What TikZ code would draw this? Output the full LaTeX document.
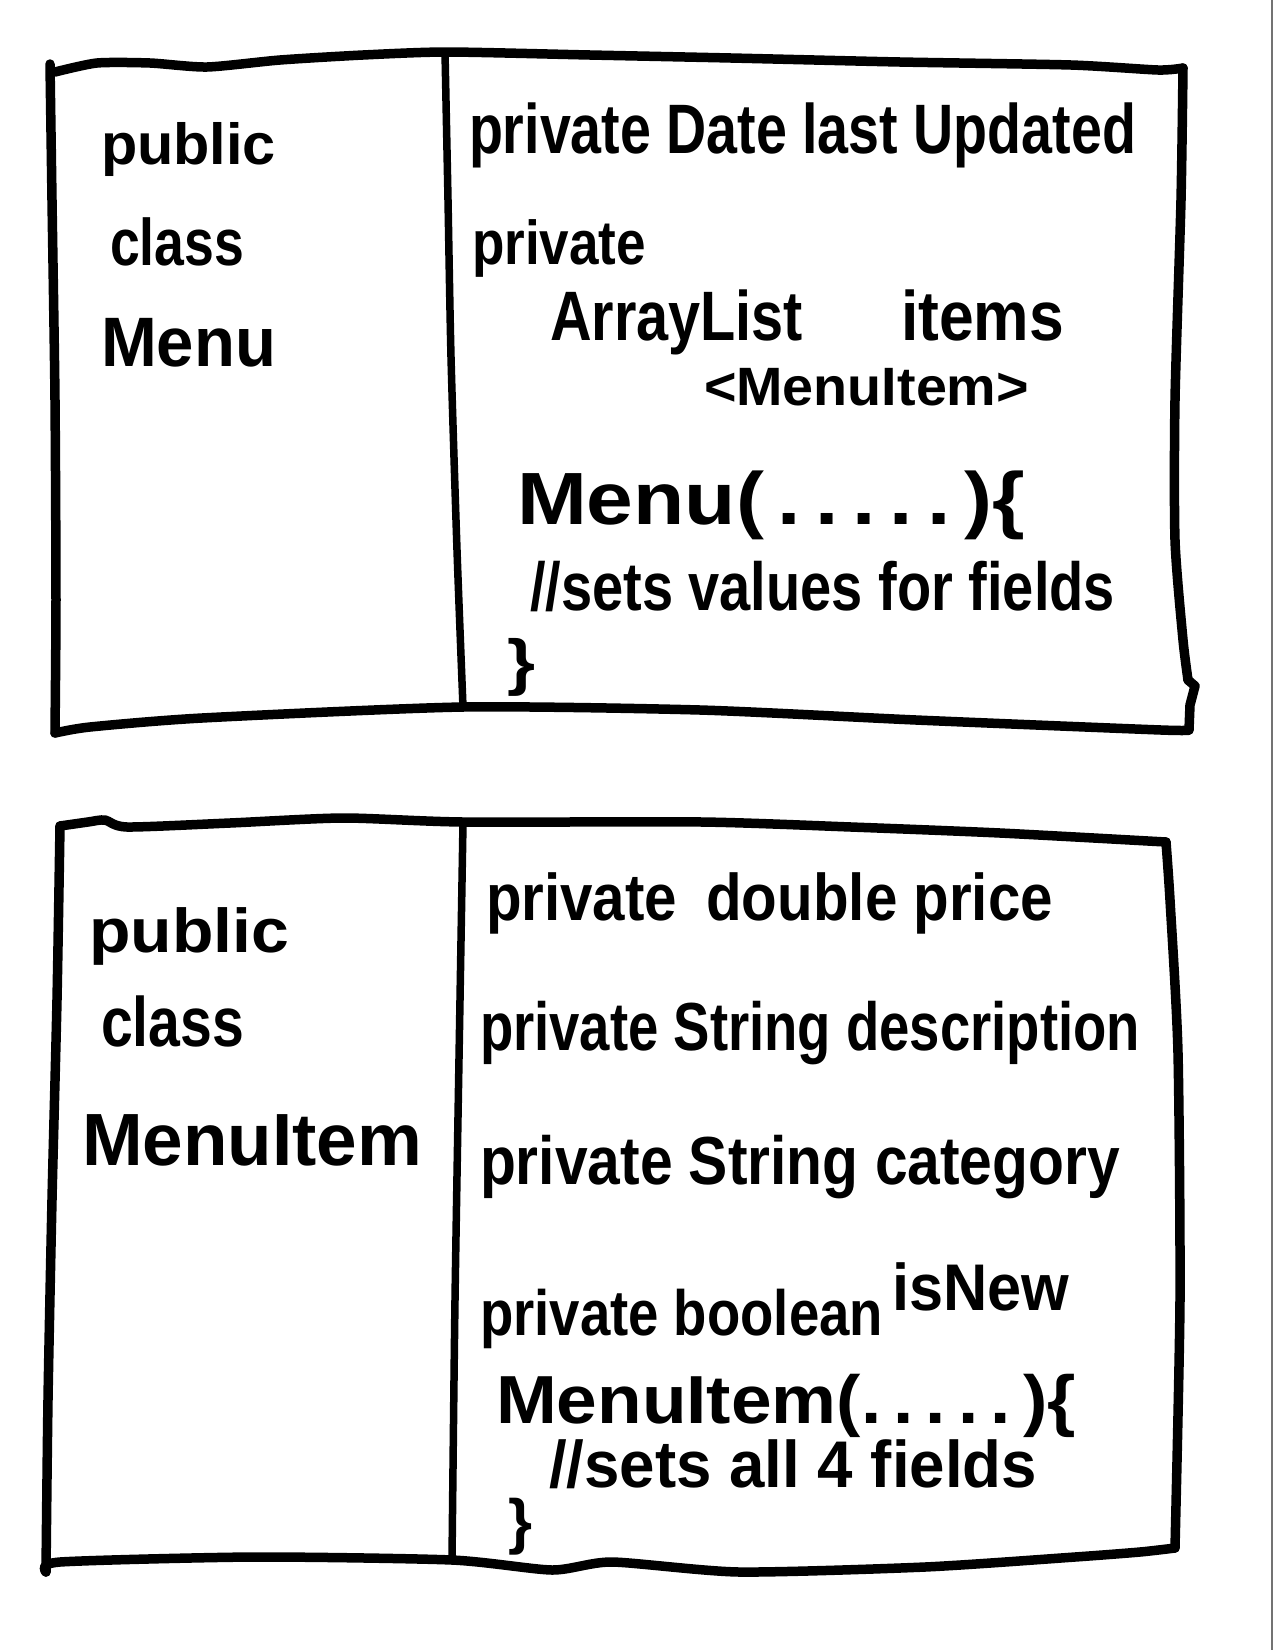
\documentclass[tikz,border=0pt]{standalone}
\usepackage{fontspec}
\setmainfont{Liberation Sans}
\usepackage{graphicx}
% stretch or squeeze a text to a given width, keeping its height
\newcommand{\fitw}[2]{\resizebox{#1}{\height}{#2}}
% scale a glyph to an exact width and total height
\newcommand{\fitwh}[3]{\resizebox*{#1}{#2}{#3}}

\tikzset{
  hand/.style={inner sep=0pt, outer sep=0pt, anchor=base west,
    font=\bfseries\fontsize{#1}{#1}\selectfont},
  brace/.style={inner sep=0pt, outer sep=0pt, anchor=center,
    font=\bfseries\fontsize{60}{60}\selectfont},
  outline/.style={line width=9.5pt, line cap=round, line join=round},
  divider/.style={line width=7.5pt, line cap=round, line join=round},
  pageedge/.style={line width=2.5pt, draw=black!55},
}

\begin{document}
\begin{tikzpicture}[x=1pt, y=-1pt]
  \useasboundingbox (0,0) rectangle (1275,1650);
  \fill[white] (0,0) rectangle (1275,1650);

  % ---------------- class Menu ----------------
  \draw[outline] plot[smooth, tension=0.4] coordinates {
    (55,72) (97,63) (150,63) (207,67) (280,60) (363,55) (447,52)
    (590,55) (731,58) (900,62) (1071,65) (1158,70) (1183,68)};
  \draw[outline] plot[smooth, tension=0.4] coordinates {
    (1183,68) (1181,200) (1175,400) (1175,540) (1183,640) (1188,680)};
  \draw[outline] (1188,680) -- (1195,686) -- (1190,705) -- (1189,730);
  \draw[outline] plot[smooth, tension=0.4] coordinates {
    (1189,730) (1161,730) (916,720) (700,710) (463,707) (202,718) (90,727) (55,733)};
  \draw[outline] plot[smooth, tension=0.4] coordinates {
    (55,733) (56,600) (55,400) (52,200) (50,64)};
  \draw[divider] plot[smooth, tension=0.4] coordinates {
    (445,52) (448,200) (451,357) (457,550) (463,707)};

  \node[hand=58] (mpublic) at (101,164) {\fitw{175pt}{public}};
  \node[hand=66] (mclass)  at (110,265) {\fitw{134pt}{class}};
  \node[hand=70] (mname)   at (101,366) {\fitw{175pt}{Menu}};

  \node[hand=70] (mdate)   at (469,153) {\fitw{667pt}{private Date last Updated}};
  \node[hand=62] (mpriv)   at (472,264) {\fitw{174pt}{private}};
  \node[hand=70] (marray)  at (550,340) {\fitw{253pt}{ArrayList}};
  \node[hand=70] (mitems)  at (901,340) {\fitw{163pt}{items}};
  \node[hand=54] (mgen)    at (704,405) {\fitw{325pt}{<MenuItem>}};
  \node[hand=74] (mctor)   at (517,524) {\fitw{508pt}{Menu(\,.\,.\,.\,.\,.\,)\{}};
  \node[hand=68] (mcomm)   at (530,610) {\fitw{585pt}{//sets values for fields}};
  \node[brace]   (mclose)  at (521,667) {\fitwh{28pt}{58pt}{\}}};

  % ---------------- class MenuItem ----------------
  \draw[outline] plot[smooth, tension=0.4] coordinates {
    (60,826) (88,822) (105,820) (127,827) (230,823) (343,818) (463,822)
    (702,822) (851,827) (1000,833) (1166,842)};
  \draw[outline] plot[smooth, tension=0.4] coordinates {
    (1166,842) (1170,900) (1178,1053) (1180,1300) (1175,1548)};
  \draw[outline] plot[smooth, tension=0.4] coordinates {
    (1175,1548) (1140,1552) (1075,1557) (925,1567) (739,1572) (612,1562)
    (552,1570) (452,1560) (254,1557) (60,1562) (46,1572)};
  \draw[outline] plot[smooth, tension=0.4] coordinates {
    (46,1572) (48,1400) (52,1200) (57,1000) (60,826)};
  \draw[divider] plot[smooth, tension=0.4] coordinates {
    (463,823) (460,1000) (455,1300) (452,1560)};

  \node[hand=62] (ipublic) at (89,952)   {\fitw{200pt}{public}};
  \node[hand=70] (iclass)  at (101,1046) {\fitw{143pt}{class}};
  \node[hand=74] (iname)   at (82,1165)  {\fitw{340pt}{MenuItem}};

  \node[hand=66] (iprice)  at (486,920)  {\fitw{567pt}{private\enspace double price}};
  \node[hand=68] (idesc)   at (480,1050) {\fitw{660pt}{private String description}};
  \node[hand=68] (icat)    at (480,1184) {\fitw{640pt}{private String category}};
  \node[hand=64] (ibool)   at (480,1335) {\fitw{403pt}{private boolean}};
  \node[hand=66] (inew)    at (892,1310) {\fitw{177pt}{isNew}};
  \node[hand=68] (ictor)   at (496,1423) {\fitw{580pt}{MenuItem(.\,.\,.\,.\,.\,)\{}};
  \node[hand=66] (icomm)   at (549,1487) {\fitw{488pt}{//sets all 4 fields}};
  \node[brace]   (iclose)  at (520,1527) {\fitwh{24pt}{57pt}{\}}};

  % edge of the scanned sheet
  \draw[pageedge] (1272,0) -- (1272,1650);
\end{tikzpicture}
\end{document}
